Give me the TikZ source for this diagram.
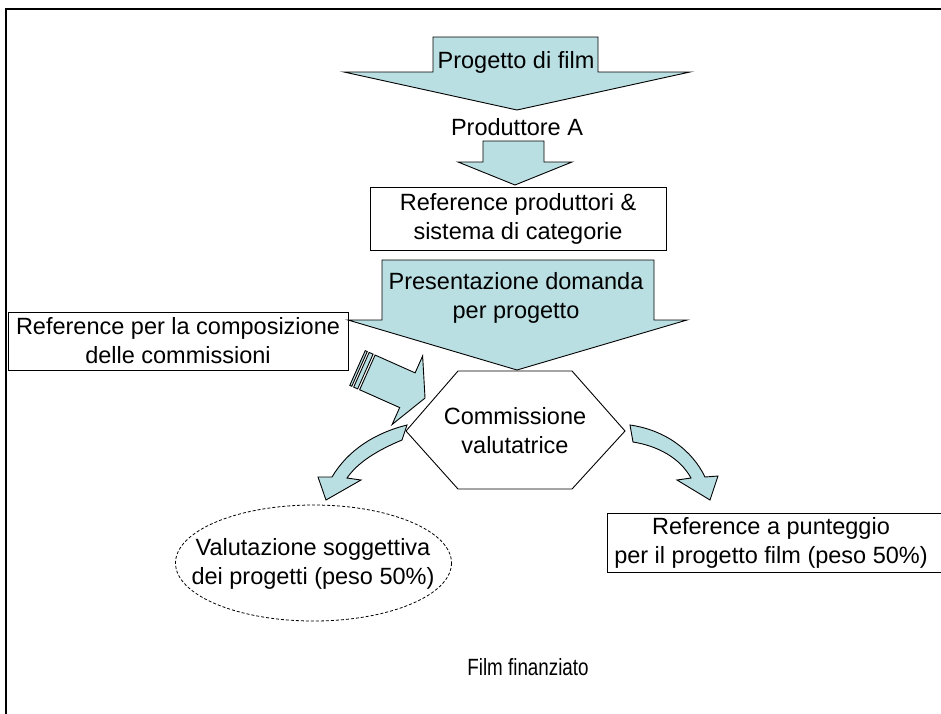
\documentclass[tikz,border=0pt]{standalone}
\usepackage{fontspec}
\setmainfont{Liberation Sans}
\definecolor{afill}{RGB}{186,223,226}
\tikzset{
  blockarrow/.style={draw=black, line width=0.9pt, fill=afill, line join=miter},
  txt/.style={inner sep=0pt, align=center, font=\fontsize{23.5}{29}\selectfont},
  boxline/.style={draw=black, line width=0.9pt, fill=white},
}
\begin{document}
\begin{tikzpicture}[x=1pt,y=-1pt]
\useasboundingbox (0,0) rectangle (941,713);
% frame
\draw[line width=2.6pt] (6,720) -- (6,9) -- (950,9);

% top arrow
\draw[blockarrow] (433,37) -- (598,37) -- (598,72) -- (690,72) -- (517,110) -- (344,72) -- (433,72) -- cycle;
\node[txt] (proj) at (516,62) {Progetto di film};
\node[txt] (prodA) at (517,127) {Produttore A};

% small arrow
\draw[blockarrow] (483,141) -- (544,141) -- (544,162) -- (572,162) -- (515,185) -- (458,162) -- (483,162) -- cycle;

% reference produttori box
\node[boxline, minimum width=296pt, minimum height=63pt, inner sep=0pt] (refbox) at (518,218.5) {};
\node[txt] (reftext) at (refbox.center) {Reference produttori \&\\sistema di categorie};

% left box
\node[boxline, minimum width=340pt, minimum height=58pt, inner sep=0pt] (combox) at (178,341) {};
\node[txt] (comtext) at (178,341) {Reference per la composizione\\delle commissioni};

% big arrow
\draw[blockarrow] (382,260) -- (654,260) -- (654,320) -- (687,320) -- (517,370) -- (348,320) -- (382,320) -- cycle;
\node[txt] (pres) at (516,298) {Presentazione domanda\\per progetto};

% hexagon
\draw[boxline] (458,371) -- (572,371) -- (625,431) -- (572,489) -- (458,489) -- (406,431) -- cycle;
\node[txt] (comm) at (515,431) {Commissione\\valutatrice};

% striped arrow
\begin{scope}[shift={(357.5,368)}, rotate=-24]
  \draw[blockarrow] (0,-19) rectangle (2.2,19);
  \draw[blockarrow] (4.3,-19) rectangle (8.6,19);
  \draw[blockarrow] (10.8,-19) -- (54.6,-19) -- (54.6,-37.5) -- (73.9,0) -- (54.6,37.5) -- (54.6,19) -- (10.8,19) -- cycle;
\end{scope}

% left curved arrow
\draw[blockarrow] (407,425) .. controls (375,433) and (348,450) .. (332,477) -- (318,477) -- (326,500) -- (361,480) -- (347,478) .. controls (358,462) and (378,450) .. (402,440) -- cycle;

% right curved arrow
\draw[blockarrow] (630,425) .. controls (665,430) and (692,450) .. (705,477) -- (718,476) -- (710,500) -- (677,480) -- (691,478) .. controls (680,458) and (658,446) .. (633,442) -- cycle;

% dashed ellipse
\draw[line width=0.8pt, dash pattern=on 3pt off 2pt] (313.5,563) ellipse [x radius=138, y radius=58];
\node[txt] (valsog) at (313,564) {Valutazione soggettiva\\dei progetti (peso 50\%)};

% right box
\draw[line width=0.9pt] (960,513) -- (607,513) -- (607,572) -- (960,572);
\node[txt] (punt) at (771,542.5) {Reference a punteggio\\per il progetto film (peso 50\%)};

% film finanziato
\node[txt] (film) at (528,667) {\scalebox{0.8}[1]{Film finanziato}};
\end{tikzpicture}
\end{document}
